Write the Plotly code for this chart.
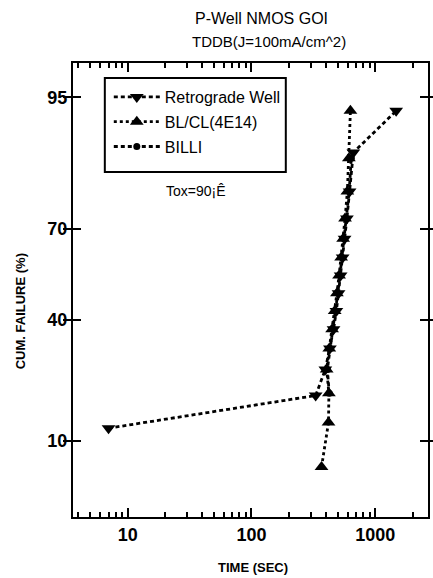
from statistics import NormalDist
import plotly.graph_objects as go

# Failure-time data (seconds) and cumulative failure (%) for each process split
retro_time = [7, 330, 395, 430, 460, 485, 505, 525, 545, 565, 590, 620, 665, 1475]
retro_fail = [12, 18.5, 25, 31, 37, 43, 49, 55, 61, 67, 73, 80, 88, 93.7]

blcl_time = [368, 419, 422, 405, 425, 448, 470, 490, 510, 530, 550, 570, 595, 612, 630]
blcl_fail = [6.6, 13, 19, 25, 31, 37, 43, 49, 55, 61, 67, 73, 80, 87, 93.7]

billi_time = [425, 410, 432, 455, 478, 498, 518, 538, 560, 585, 615, 640]
billi_fail = [19, 25, 31, 37, 43, 49, 55, 61, 67, 73, 80, 87]

y_tick_pct = [10, 40, 70, 95]
x_tick_vals = [10, 100, 1000]
x_minor_vals = [4, 5, 6, 7, 8, 9, 20, 30, 40, 50, 60, 70, 80, 90,
                200, 300, 400, 500, 600, 700, 800, 900, 2000]

nd = NormalDist()


def probit(pcts):
    """Normal-probability (probit) transform of percentages."""
    return [nd.inv_cdf(p / 100.0) for p in pcts]


FONT = "Liberation Sans, Arial, Helvetica, sans-serif"
L, R, T, B = 73, 3, 63, 61
W, H = 433, 578
PW, PH = W - L - R, H - T - B
X_RANGE = [0.558, 3.426]


def px(x):
    return (x - L) / PW


def py(y):
    return 1 - (y - T) / PH


fig = go.Figure()

series = [
    ("Retrograde Well", retro_time, retro_fail, "triangle-down", 12, "4px,3px"),
    ("BL/CL(4E14)", blcl_time, blcl_fail, "triangle-up", 12, "3px,3px"),
    ("BILLI", billi_time, billi_fail, "circle", 7, "4px,3px"),
]
for i, (name, xs, ys, sym, size, dash) in enumerate(series):
    fig.add_trace(go.Scatter(
        x=xs, y=probit(ys), name=name, mode="lines+markers",
        legendgroup=f"g{i}",
        line=dict(color="black", width=2.8, dash=dash),
        marker=dict(symbol=sym, size=size, color="black"),
        customdata=ys,
        hovertemplate="%{x} s, %{customdata}%<extra>" + name + "</extra>",
    ))

# empty trace that carries the overlaid axis used for the minor log ticks
fig.add_trace(go.Scatter(x=[], y=[], xaxis="x2", yaxis="y",
                         showlegend=False, hoverinfo="skip"))

fig.update_layout(
    width=W, height=H,
    margin=dict(l=L, r=R, t=T, b=B),
    paper_bgcolor="white", plot_bgcolor="white",
    font=dict(family=FONT, color="black"),
    showlegend=True,
    legend=dict(
        x=px(109), y=py(80), xanchor="left", yanchor="top",
        bgcolor="rgba(0,0,0,0)", borderwidth=0,
        font=dict(family=FONT, size=16, color="black"),
        tracegroupgap=1, itemwidth=46,
    ),
    xaxis=dict(
        type="log", range=X_RANGE,
        tickmode="array", tickvals=x_tick_vals,
        ticktext=[str(v) for v in x_tick_vals],
        ticks="inside", ticklen=9, tickwidth=2, tickcolor="black",
        showline=True, linewidth=2, linecolor="black", mirror="allticks",
        showgrid=False, zeroline=False,
        tickfont=dict(family=FONT, size=18, color="black", weight="bold"),
    ),
    xaxis2=dict(
        type="log", range=X_RANGE, overlaying="x", anchor="y", side="bottom",
        tickmode="array", tickvals=x_minor_vals, showticklabels=False,
        ticks="inside", ticklen=5, tickwidth=1.5, tickcolor="black",
        showline=False, mirror="allticks",
        showgrid=False, zeroline=False,
    ),
    yaxis=dict(
        range=[-1.932, 1.938],
        tickmode="array", tickvals=probit(y_tick_pct),
        ticktext=[str(v) for v in y_tick_pct],
        ticks="inside", ticklen=8, tickwidth=2, tickcolor="black",
        showline=True, linewidth=2, linecolor="black", mirror="allticks",
        showgrid=False, zeroline=False,
        tickfont=dict(family=FONT, size=18, color="black", weight="bold"),
    ),
    shapes=[
        # frame around the legend entries
        dict(type="rect", xref="paper", yref="paper",
             x0=px(105), x1=px(287), y0=py(172), y1=py(78),
             line=dict(color="black", width=2), fillcolor="rgba(0,0,0,0)",
             layer="above"),
    ],
    annotations=[
        dict(text="P-Well NMOS GOI", x=px(263), y=py(18), xref="paper", yref="paper",
             showarrow=False, xanchor="center", yanchor="middle",
             font=dict(family=FONT, size=16, color="black")),
        dict(text="TDDB(J=100mA/cm^2)", x=px(270), y=py(42), xref="paper", yref="paper",
             showarrow=False, xanchor="center", yanchor="middle",
             font=dict(family=FONT, size=15, color="black")),
        dict(text="Tox=90¡Ê", x=px(165), y=py(191), xref="paper", yref="paper",
             showarrow=False, xanchor="left", yanchor="middle",
             font=dict(family=FONT, size=14, color="black")),
        dict(text="CUM. FAILURE (%)", x=px(20), y=py(311), xref="paper", yref="paper",
             showarrow=False, xanchor="center", yanchor="middle", textangle=-90,
             font=dict(family=FONT, size=13, color="black", weight="bold")),
        dict(text="TIME (SEC)", x=px(254), y=py(567), xref="paper", yref="paper",
             showarrow=False, xanchor="center", yanchor="middle",
             font=dict(family=FONT, size=13, color="black", weight="bold")),
    ],
)

fig.write_html("out.html")
